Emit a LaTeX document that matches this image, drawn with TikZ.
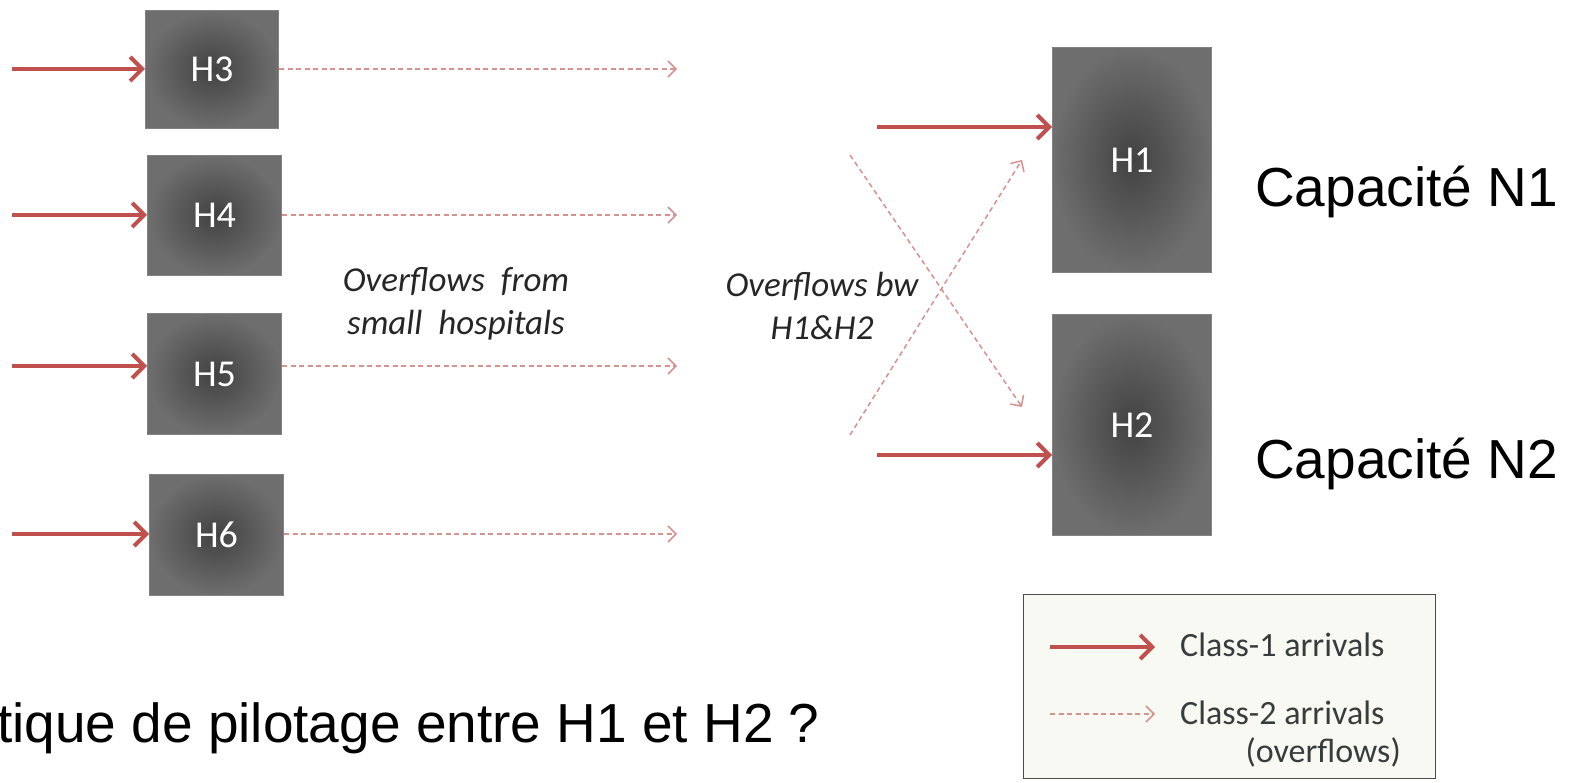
\documentclass[tikz,border=0pt]{standalone}
\usepackage{fontspec}
\setmainfont{Liberation Sans}
\newfontfamily\calib{Carlito}
\usetikzlibrary{arrows.meta}

\definecolor{arrred}{RGB}{192,80,77}
\definecolor{ovfred}{RGB}{215,145,143}
\definecolor{boxin}{RGB}{66,66,66}
\definecolor{boxout}{RGB}{110,110,110}
\definecolor{boxline}{RGB}{130,130,130}
\definecolor{legfill}{RGB}{248,249,243}
\definecolor{legtxt}{RGB}{55,60,60}

\begin{document}
\begin{tikzpicture}[x=1pt,y=-1pt]
	\tikzstyle{hosp}=[draw=boxline, line width=1pt, inner color=boxin, outer color=boxout, text=white, font=\calib\fontsize{38}{42}\selectfont, inner sep=0pt, anchor=north west]
	\tikzstyle{cls1}=[arrred, line width=4pt, -{Straight Barb[length=12pt,width=24pt]}]
	\tikzstyle{cls2}=[ovfred, line width=1.5pt, dash pattern=on 5pt off 3.5pt, -{Straight Barb[length=8pt,width=16pt]}]
	\tikzstyle{ovtext}=[font=\calib\itshape\fontsize{35}{43}\selectfont, text=black!85, align=center, inner sep=0pt]
	\tikzstyle{bigtext}=[font=\fontsize{55}{60}\selectfont, inner sep=0pt]
	\tikzstyle{legtext}=[font=\calib\fontsize{34}{40}\selectfont, text=legtxt, inner sep=0pt]
	\useasboundingbox (0,0) rectangle (1574,783);
	% small hospitals
	\node[hosp, minimum width=133pt, minimum height=118pt] (h3) at (145,10) {H3};
	\node[hosp, minimum width=134pt, minimum height=120pt] (h4) at (147,155) {H4};
	\node[hosp, minimum width=134pt, minimum height=121pt] (h5) at (147,313) {H5};
	\node[hosp, minimum width=134pt, minimum height=121pt] (h6) at (149,474) {H6};
	\coordinate (s3) at (12,69);
	\coordinate (s4) at (12,215);
	\coordinate (s5) at (12,366);
	\coordinate (s6) at (12,534);
	\coordinate (e3) at (677,69);
	\coordinate (e4) at (677,215);
	\coordinate (e5) at (677,366);
	\coordinate (e6) at (677,534);
	\draw[cls1] (s3) -- (s3 -| h3.west);
	\draw[cls1] (s4) -- (s4 -| h4.west);
	\draw[cls1] (s5) -- (s5 -| h5.west);
	\draw[cls1] (s6) -- (s6 -| h6.west);
	\draw[cls2] (e3 -| h3.east) -- (e3);
	\draw[cls2] (e4 -| h4.east) -- (e4);
	\draw[cls2] (e5 -| h5.east) -- (e5);
	\draw[cls2] (e6 -| h6.east) -- (e6);
	\node[ovtext] (ovsmall) at (456,304) {Overflows\ \ from\\small\ \ hospitals};
	% big hospitals
	\node[hosp, minimum width=159pt, minimum height=225pt] (h1) at (1052,47) {H1};
	\node[hosp, minimum width=159pt, minimum height=221pt] (h2) at (1052,314) {H2};
	\coordinate (s1) at (877,127);
	\coordinate (s2) at (877,455);
	\draw[cls1] (s1) -- (s1 -| h1.west);
	\draw[cls1] (s2) -- (s2 -| h2.west);
	\coordinate (xa) at (850,155);
	\coordinate (xb) at (1022,407);
	\coordinate (xc) at (850,435);
	\coordinate (xd) at (1022,160);
	\draw[cls2] (xa) -- (xb);
	\draw[cls2] (xc) -- (xd);
	\node[ovtext] (ovbig) at (822,306) {Overflows bw\\H1\&H2};
	\node[bigtext, anchor=base west] (cap1) at (1255,207) {Capacité N1};
	\node[bigtext, anchor=base west] (cap2) at (1255,478) {Capacité N2};
	\node[bigtext, anchor=base west] (quest) at (-3,742) {tique de pilotage entre H1 et H2 ?};
	% legend
	\node[draw=black!70, line width=1.4pt, fill=legfill, minimum width=412pt, minimum height=184pt, anchor=north west] (leg) at (1023,594) {};
	\coordinate (la) at (1050,647);
	\coordinate (lb) at (1155,647);
	\coordinate (lc) at (1050,714);
	\coordinate (ld) at (1155,714);
	\draw[cls1] (la) -- (lb);
	\draw[cls2] (lc) -- (ld);
	\node[legtext, anchor=west] (lt1) at (1180,645) {Class-1 arrivals};
	\node[legtext, anchor=west] (lt2) at (1180,713) {Class-2 arrivals};
	\node[legtext, anchor=east] (lt3) at (1401,752) {(overflows)};
\end{tikzpicture}
\end{document}
